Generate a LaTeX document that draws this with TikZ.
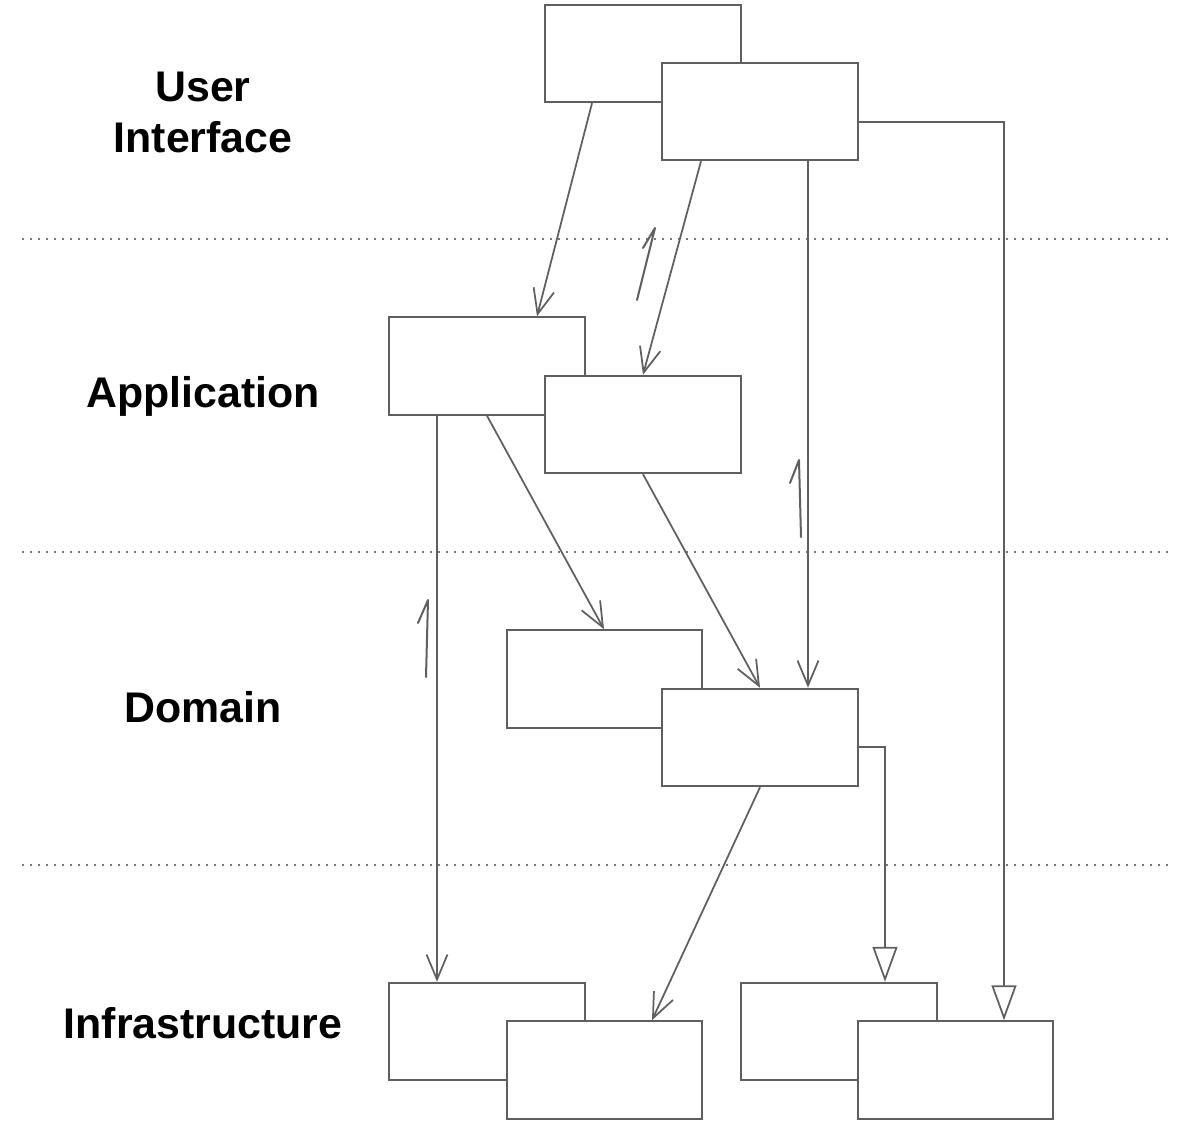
\documentclass[tikz,border=0pt]{standalone}
\usepackage{fontspec}
\setmainfont{Liberation Sans}
\usetikzlibrary{arrows.meta,calc}
\definecolor{ln}{RGB}{95,95,95}
\definecolor{dotc}{RGB}{120,120,120}
\begin{document}
\begin{tikzpicture}[x=0.02cm,y=-0.02cm,
  box/.style={draw=ln,line width=0.04cm,fill=white,inner sep=0pt,minimum width=3.92cm,minimum height=1.95cm},
  dep/.style={draw=ln,line width=0.035cm,-{Straight Barb[length=0.5cm,width=0.42cm,line width=0.035cm]}},
  gen/.style={draw=ln,line width=0.035cm,-{Triangle[open,length=0.7cm,width=0.5cm,fill=white,line width=0.035cm]}},
  sep/.style={draw=dotc,line width=0.04cm,dash pattern=on 0.04cm off 0.12cm},
  upmark/.style={draw=ln,line width=0.04cm,line cap=round,line join=round},
  layer/.style={font=\fontsize{24.4}{29}\selectfont\bfseries,text=black,align=center}]
\useasboundingbox (0,0) rectangle (1191,1123);
% separators
\draw[sep] (22,239) -- (1172,239);
\draw[sep] (22,552) -- (1172,552);
\draw[sep] (22,865) -- (1172,865);
% labels
\node[layer] (lui) at (203,112) {User\\Interface};
\node[layer] (lapp) at (203,396) {Application};
\node[layer] (ldom) at (203,707) {Domain};
\node[layer] (linf) at (203,1023) {Infrastructure};
% boxes
\node[box] (ui1) at (643,53.5) {};
\node[box] (ui2) at (760,111.5) {};
\node[box] (app1) at (487,366) {};
\node[box] (app2) at (643,424.5) {};
\node[box] (dom1) at (604.5,679) {};
\node[box] (dom2) at (760,737.5) {};
\node[box] (inf1) at (487,1031.5) {};
\node[box] (inf2) at (604.5,1070) {};
\node[box] (inf3) at (839,1031.5) {};
\node[box] (inf4) at (955.5,1070) {};
% connectors
\draw[dep] (ui1.south -| 592,0) -- (app1.north -| 537,0);
\draw[dep] (ui2.south -| 701,0) -- (app2.north -| 643,0);
\draw[dep] (ui2.south -| 808,0) -- (dom2.north -| 808,0);
\draw[gen] (ui2.east |- 0,122) -| (inf4.north -| 1004,0);
\draw[dep] (app1.south -| 437,0) -- (inf1.north -| 437,0);
\draw[dep] (app1.south -| 487,0) -- (dom1.north -| 604,0);
\draw[dep] (app2.south -| 643,0) -- (dom2.north -| 760,0);
\draw[dep] (dom2.south -| 760,0) -- (inf2.north -| 652,0);
\draw[gen] (dom2.east |- 0,747) -| (inf3.north -| 885,0);
% hand-drawn upward marks
\draw[upmark] (637,300) -- (655,228) -- (643,248);
\draw[upmark] (801,537) -- (799,460) -- (790,483);
\draw[upmark] (426,677) -- (428,600) -- (418,623);
\end{tikzpicture}
\end{document}
